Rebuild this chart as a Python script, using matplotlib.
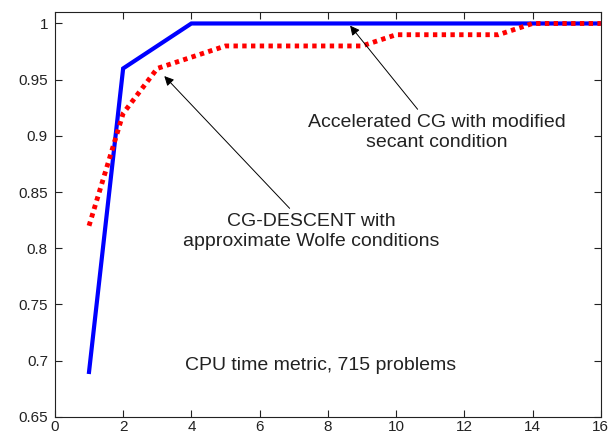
import numpy as np
import matplotlib.pyplot as plt

plt.rcParams['font.family'] = ['Liberation Sans', 'DejaVu Sans']

# performance profile values
x_vals = [1, 2, 3, 4, 5, 6, 7, 8, 9, 10, 11, 12, 13, 14, 15, 16]
accel_cg = [0.69, 0.96, 0.98, 1.0, 1.0, 1.0, 1.0, 1.0, 1.0, 1.0, 1.0, 1.0, 1.0, 1.0, 1.0, 1.0]
cg_descent = [0.82, 0.92, 0.96, 0.97, 0.98, 0.98, 0.98, 0.98, 0.98, 0.99, 0.99, 0.99, 0.99, 1.0, 1.0, 1.0]

x_ticks = [0, 2, 4, 6, 8, 10, 12, 14, 16]
y_ticks = [0.65, 0.7, 0.75, 0.8, 0.85, 0.9, 0.95, 1.0]
y_labels = ['0.65', '0.7', '0.75', '0.8', '0.85', '0.9', '0.95', '1']

fig = plt.figure(figsize=(6.1, 4.37), dpi=100)
ax = fig.add_axes([0.090, 0.046, 0.895, 0.926])

ax.plot(x_vals, accel_cg, color='#0000ff', lw=3.0, solid_joinstyle='miter')
ax.plot(x_vals, cg_descent, color='#ff0000', lw=3.5, linestyle=(0, (0.9, 0.9)),
        dash_capstyle='butt')

ax.set_xlim(0, 16)
ax.set_ylim(0.65, 1.01)
ax.set_xticks(x_ticks)
ax.set_yticks(y_ticks)
ax.set_yticklabels(y_labels)
ax.tick_params(direction='in', top=True, right=True, length=5, labelsize=11,
               colors='#222222')
ax.tick_params(axis='y', pad=5)
ax.tick_params(axis='x', pad=2)
for s in ax.spines.values():
    s.set_linewidth(0.8)
    s.set_color('#222222')

arrow = dict(arrowstyle='-|>', color='black', lw=0.7, mutation_scale=14)
ax.annotate('Accelerated CG with modified\nsecant condition',
            xy=(8.6, 1.0), xytext=(11.18, 0.903), ha='center', va='center',
            fontsize=14, color='#222222', linespacing=1.2, arrowprops=arrow)
ax.annotate('CG-DESCENT with\napproximate Wolfe conditions',
            xy=(3.15, 0.955), xytext=(7.52, 0.815), ha='center', va='center',
            fontsize=14, color='#222222', linespacing=1.2, arrowprops=arrow)
ax.text(7.78, 0.696, 'CPU time metric, 715 problems', ha='center', va='center',
        fontsize=14, color='#222222')

fig.savefig('out.png', dpi=100)
